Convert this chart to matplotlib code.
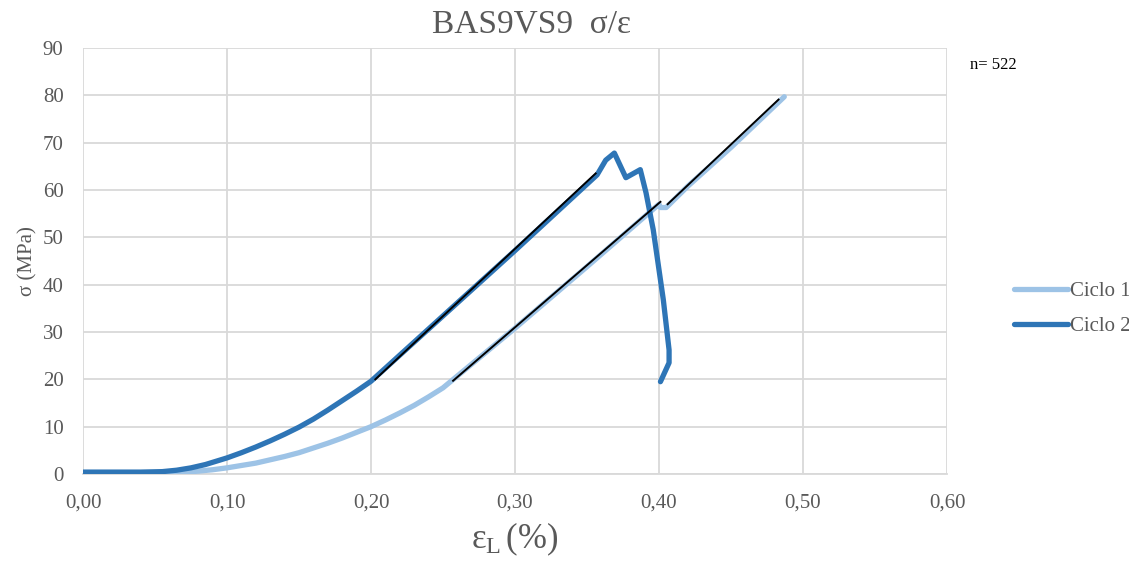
import matplotlib
matplotlib.use("Agg")
import matplotlib.pyplot as plt
from matplotlib.ticker import FuncFormatter, MultipleLocator

# ---- data ----
ciclo1_x = [0.00, 0.04, 0.06, 0.07, 0.08, 0.09, 0.10, 0.11, 0.12, 0.13, 0.14, 0.15,
            0.16, 0.17, 0.18, 0.19, 0.20, 0.21, 0.22, 0.23, 0.24, 0.25, 0.30, 0.35,
            0.40, 0.401, 0.405, 0.42, 0.45, 0.487]
ciclo1_y = [0.3, 0.3, 0.3, 0.4, 0.6, 0.9, 1.3, 1.8, 2.3, 3.0, 3.7, 4.5,
            5.5, 6.5, 7.6, 8.8, 10.0, 11.4, 12.9, 14.5, 16.3, 18.2, 30.8, 43.8,
            57.0, 56.3, 56.3, 60.8, 69.0, 79.7]

ciclo2_x = [0.00, 0.02, 0.04, 0.055, 0.065, 0.075, 0.085, 0.10, 0.11, 0.12, 0.13,
            0.14, 0.15, 0.16, 0.17, 0.18, 0.19, 0.20, 0.25, 0.30, 0.357, 0.363,
            0.369, 0.377, 0.387, 0.391, 0.396, 0.403, 0.407, 0.407, 0.401]
ciclo2_y = [0.4, 0.4, 0.4, 0.5, 0.8, 1.3, 2.0, 3.4, 4.5, 5.7, 7.0,
            8.4, 9.9, 11.6, 13.5, 15.5, 17.5, 19.6, 33.4, 47.2, 63.2, 66.3,
            67.8, 62.6, 64.3, 59.4, 51.6, 36.8, 26.2, 23.5, 19.5]

fit2_x = [0.203, 0.356]
fit2_y = [20.0, 63.5]
fit1a_x = [0.257, 0.401]
fit1a_y = [19.7, 57.5]
fit1b_x = [0.406, 0.483]
fit1b_y = [57.0, 79.1]

series_labels = ["Ciclo 1", "Ciclo 2"]
title_text = "BAS9VS9  σ/ε"
n_text = "n= 522"

# ---- styling ----
plt.rcParams["font.family"] = ["Liberation Serif", "DejaVu Serif"]
plt.rcParams["mathtext.fontset"] = "custom"
plt.rcParams["mathtext.rm"] = "Liberation Serif"
plt.rcParams["mathtext.it"] = "Liberation Serif:italic"

gray_text = "#595959"
grid_col = "#D9D9D9"
c1 = "#9DC3E6"
c2 = "#2E75B6"

fig = plt.figure(figsize=(11.29, 5.68), dpi=100)
ax = fig.add_axes([83 / 1129, 1 - 474 / 568, (947 - 83) / 1129, (474 - 48) / 568])

l1, = ax.plot(ciclo1_x, ciclo1_y, color=c1, lw=3.8, solid_capstyle="round",
              solid_joinstyle="round", zorder=3, label=series_labels[0])
l2, = ax.plot(ciclo2_x, ciclo2_y, color=c2, lw=3.8, solid_capstyle="round",
              solid_joinstyle="round", zorder=4, label=series_labels[1])
for fx, fy in [(fit2_x, fit2_y), (fit1a_x, fit1a_y), (fit1b_x, fit1b_y)]:
    ax.plot(fx, fy, color="black", lw=1.4, zorder=5)

ax.set_xlim(0, 0.6)
ax.set_ylim(0, 90)
ax.xaxis.set_major_locator(MultipleLocator(0.1))
ax.yaxis.set_major_locator(MultipleLocator(10))
ax.xaxis.set_major_formatter(FuncFormatter(lambda v, p: f"{v:.2f}".replace(".", ",")))
ax.yaxis.set_major_formatter(FuncFormatter(lambda v, p: f"{v:.0f}"))
ax.grid(True, color=grid_col, lw=1.3, zorder=0)
ax.set_axisbelow(True)
for s in ["top", "right", "left"]:
    ax.spines[s].set_visible(False)
ax.spines["bottom"].set_color(grid_col)
ax.spines["bottom"].set_linewidth(1.3)
ax.tick_params(axis="both", length=0, labelsize=15, labelcolor=gray_text)
ax.tick_params(axis="x", pad=14)
ax.tick_params(axis="y", pad=14)

ax.set_ylabel("σ (MPa)", fontsize=15, color=gray_text, labelpad=4)
ax.set_xlabel(r"$\mathrm{ε_L\,(\%)}$", fontsize=25, color=gray_text, labelpad=6)

fig.text(532 / 1129, 1 - 24 / 568, title_text, fontsize=24, color=gray_text,
         ha="center", va="center")
fig.text(970 / 1129, 1 - 65 / 568, n_text, fontsize=12, color="black",
         ha="left", va="center")

leg = fig.legend(handles=[l1, l2], loc="center left",
                 bbox_to_anchor=(995 / 1129, 1 - 309 / 568), frameon=False,
                 fontsize=15, labelcolor=gray_text, handlelength=2.6,
                 handletextpad=0.1, labelspacing=0.75)

fig.savefig("out.png", dpi=100)
